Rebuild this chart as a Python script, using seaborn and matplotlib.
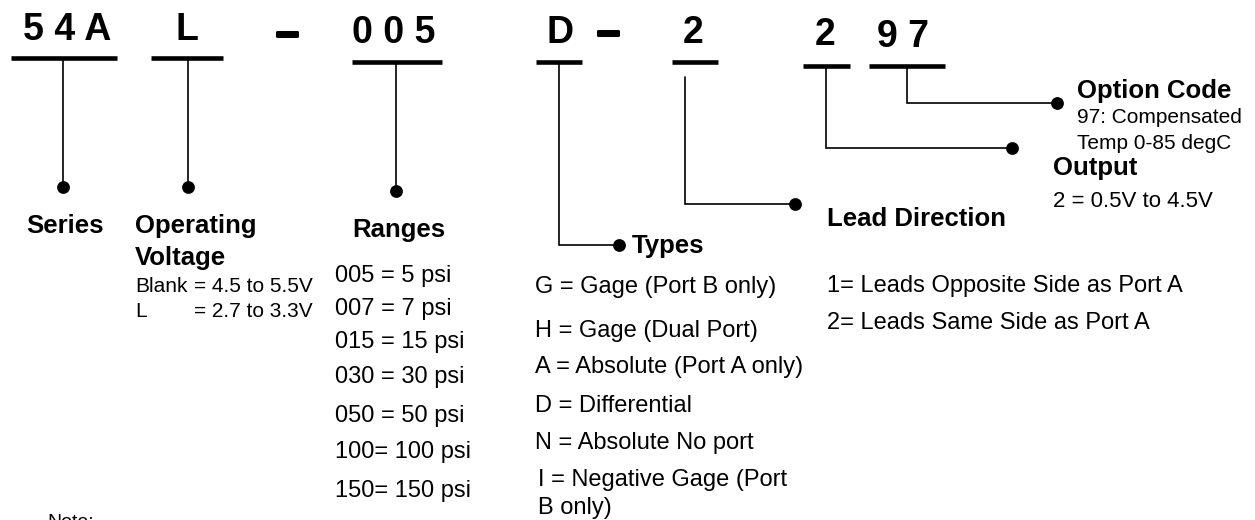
import matplotlib
matplotlib.use("Agg")
import matplotlib.pyplot as plt
import matplotlib.patheffects as pe
import seaborn as sns
import pandas as pd

# ---------------- data (text content) ----------------
code_segments = ["5 4 A", "L", "\u2013", "0 0 5", "D", "\u2013", "2", "2", "9 7"]
field_titles = ["Series", "Operating", "Voltage", "Ranges", "Types",
                "Lead Direction", "Output", "Option Code"]
voltage_keys = ["Blank", "L"]
voltage_vals = ["= 4.5 to 5.5V", "= 2.7 to 3.3V"]
range_options = ["005 = 5 psi", "007 = 7 psi", "015 = 15 psi", "030 = 30 psi",
                 "050 = 50 psi", "100= 100 psi", "150= 150 psi"]
type_options = ["G = Gage (Port B only)", "H = Gage (Dual Port)",
                "A = Absolute (Port A only)", "D = Differential",
                "N = Absolute No port", "I = Negative Gage (Port", "B only)"]
lead_options = ["1= Leads Opposite Side as Port A", "2= Leads Same Side as Port A"]
output_options = ["2 = 0.5V to 4.5V"]
option_code_options = ["97: Compensated", "Temp 0-85 degC"]
note_text = ["Note:"]

# ---------------- layout (pixel positions) ----------------
code_x = [67, 187, 287, 394, 560, 608, 693, 825, 903]
code_base = [40, 40, 45, 43, 43, 44, 43, 45, 47]

underline_x0 = [11, 151, 352, 536, 672, 803, 869]
underline_x1 = [117, 223, 442, 582, 718, 850, 945]
underline_y = [58, 58, 62, 62, 62, 66, 66]

connector_paths = [
    [(63, 58), (63, 187)],
    [(188, 58), (188, 187)],
    [(396, 62), (396, 191)],
    [(559, 62), (559, 245), (619, 245)],
    [(685, 77), (685, 204), (795, 204)],
    [(826, 66), (826, 148), (1012, 148)],
    [(907, 66), (907, 103), (1057, 103)],
]

title_x = [26, 135, 135, 352, 632, 827, 1053, 1077]
title_base = [233, 233, 265, 237, 253, 226, 175, 98]

range_base = [282, 315, 348, 383, 422, 458, 497]
type_x = [535, 535, 535, 535, 535, 538, 538]
type_base = [293, 337, 373, 412, 449, 486, 514]
lead_base = [292, 329]
option_base = [123, 149]

W, H = 1255, 520
sns.set_theme(style="white")
plt.rcParams["font.family"] = ["Liberation Sans", "DejaVu Sans"]

fig = plt.figure(figsize=(W / 100, H / 100), dpi=100)
ax = fig.add_axes([0, 0, 1, 1])

# connectors
for path in connector_paths:
    xs = [p[0] for p in path]
    ys = [p[1] for p in path]
    ax.plot(xs, ys, color="black", lw=1.2, solid_joinstyle="miter")

dots = pd.DataFrame({"x": [p[-1][0] for p in connector_paths],
                     "y": [p[-1][1] for p in connector_paths]})
sns.scatterplot(data=dots, x="x", y="y", ax=ax, s=85, color="black",
                edgecolor="black", linewidth=0, zorder=5, legend=False)

ax.set_xlim(0, W)
ax.set_ylim(H, 0)
ax.axis("off")

# header code characters
for s, x, y in zip(code_segments, code_x, code_base):
    if s == "\u2013":
        ax.text(x, y, s, ha="center", va="baseline", fontsize=30,
                fontweight="bold", color="black",
                path_effects=[pe.withStroke(linewidth=2.2, foreground="black")])
    else:
        ax.text(x, y, s, ha="center", va="baseline", fontsize=27,
                fontweight="bold", color="black")

# thick underlines
for x0, x1, y in zip(underline_x0, underline_x1, underline_y):
    ax.plot([x0, x1], [y, y], color="black", lw=3.3, solid_capstyle="butt")

# titles
for s, x, y in zip(field_titles, title_x, title_base):
    ax.text(x, y, s, ha="left", va="baseline", fontsize=18.5,
            fontweight="bold", color="black")

# voltage options
for k, v, y in zip(voltage_keys, voltage_vals, [292, 317]):
    ax.text(135, y, k, ha="left", va="baseline", fontsize=15, color="black")
    ax.text(194, y, v, ha="left", va="baseline", fontsize=15, color="black")

for s, y in zip(range_options, range_base):
    ax.text(335, y, s, ha="left", va="baseline", fontsize=17, color="black")

for s, x, y in zip(type_options, type_x, type_base):
    ax.text(x, y, s, ha="left", va="baseline", fontsize=17, color="black")

for s, y in zip(lead_options, lead_base):
    ax.text(827, y, s, ha="left", va="baseline", fontsize=17, color="black")

for s in output_options:
    ax.text(1053, 207, s, ha="left", va="baseline", fontsize=16, color="black")

for s, y in zip(option_code_options, option_base):
    ax.text(1077, y, s, ha="left", va="baseline", fontsize=15, color="black")

for s in note_text:
    ax.text(47, 527, s, ha="left", va="baseline", fontsize=14, color="black")

fig.savefig("out.png", dpi=100, facecolor="white")
